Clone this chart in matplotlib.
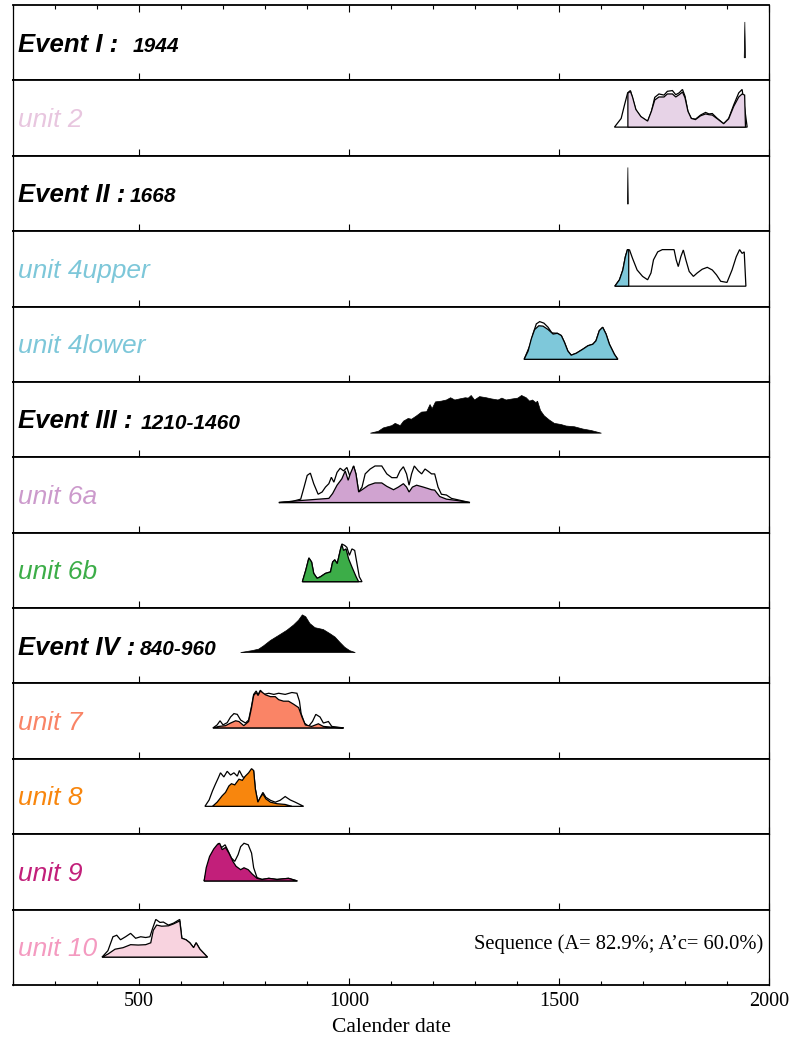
import matplotlib
matplotlib.use('Agg')
import matplotlib.pyplot as plt
import numpy as np
from matplotlib.ticker import MultipleLocator

# ---- data (years, relative height) ----
event1_x = [1941, 1942.5, 1944]
event1_y = [0, 0.95, 0]

unit2_prior_x = [1632, 1648, 1656, 1663.5, 1670, 1675, 1683, 1695, 1711, 1720, 1728, 1738, 1750, 1758,
                 1770, 1778, 1786, 1794, 1800, 1807, 1815, 1825, 1837, 1849, 1857, 1865, 1877, 1892,
                 1904, 1916, 1928, 1936, 1941, 1948]
unit2_prior_y = [0, 0.23, 0.59, 0.91, 0.97, 0.77, 0.45, 0.27, 0.15, 0.41, 0.79, 0.88, 0.85, 0.95,
                 0.97, 0.86, 0.91, 1.0, 0.82, 0.41, 0.23, 0.21, 0.32, 0.39, 0.35, 0.36, 0.23, 0.09,
                 0.23, 0.59, 0.91, 1.0, 0.59, 0]
unit2_post_x = [1664, 1664, 1670, 1675, 1683, 1695, 1711, 1720, 1728, 1738, 1750, 1758, 1770, 1778,
                1786, 1794, 1800, 1807, 1815, 1825, 1837, 1849, 1857, 1865, 1877, 1892, 1904, 1916,
                1928, 1936, 1942, 1944]
unit2_post_y = [0, 0.9, 0.95, 0.8, 0.47, 0.28, 0.16, 0.42, 0.72, 0.80, 0.80, 0.88, 0.88, 0.80,
                0.86, 0.93, 0.78, 0.42, 0.23, 0.2, 0.3, 0.35, 0.33, 0.32, 0.22, 0.09, 0.22, 0.55,
                0.8, 0.88, 0.85, 0]

event2_x = [1663, 1664, 1665]
event2_y = [0, 0.97, 0]

unit4u_prior_x = [1633, 1644, 1652, 1658, 1663, 1668, 1675, 1686, 1699, 1711, 1719, 1725, 1735, 1746,
                  1774, 1779, 1784, 1790, 1796, 1802, 1810, 1820, 1829, 1841, 1853, 1865, 1875, 1885,
                  1900, 1912, 1922, 1930, 1936, 1941, 1945]
unit4u_prior_y = [0, 0.17, 0.43, 0.78, 0.97, 0.96, 0.74, 0.43, 0.26, 0.17, 0.35, 0.70, 0.91, 0.97,
                  0.97, 0.70, 0.52, 0.78, 0.96, 0.70, 0.39, 0.26, 0.35, 0.45, 0.50, 0.43, 0.30, 0.13,
                  0.10, 0.43, 0.78, 0.97, 0.87, 0.91, 0]
unit4u_post_x = [1633, 1644, 1652, 1658, 1663, 1666, 1666]
unit4u_post_y = [0, 0.17, 0.43, 0.78, 0.97, 0.97, 0]

unit4l_prior_x = [1417, 1430.5, 1438, 1446, 1454, 1464, 1474, 1483, 1496, 1505.5, 1513, 1521, 1529,
                  1541, 1557, 1569, 1580.5, 1588, 1596, 1604, 1612, 1620, 1632, 1640]
unit4l_prior_y = [0, 0.36, 0.67, 0.94, 1.0, 0.96, 0.85, 0.70, 0.69, 0.63, 0.45, 0.22, 0.11,
                  0.16, 0.27, 0.36, 0.40, 0.49, 0.76, 0.85, 0.67, 0.40, 0.13, 0]
unit4l_post_x = [1417, 1426.5, 1434, 1442, 1452, 1462, 1474, 1486, 1496, 1505.5, 1513, 1521, 1529,
                 1541, 1557, 1569, 1580.5, 1588, 1596, 1604, 1612, 1620, 1632, 1640]
unit4l_post_y = [0, 0.22, 0.54, 0.79, 0.89, 0.88, 0.79, 0.67, 0.69, 0.63, 0.45, 0.22, 0.11,
                 0.16, 0.27, 0.36, 0.40, 0.49, 0.76, 0.85, 0.67, 0.40, 0.13, 0]

event3_x = [1051, 1070, 1082, 1102, 1110, 1122, 1130, 1141, 1149, 1161, 1173, 1185, 1193, 1198,
            1206, 1220, 1232, 1242, 1252, 1264, 1277, 1284, 1291, 1299, 1311, 1327, 1339, 1355,
            1364, 1374, 1390, 1402, 1411, 1422, 1430, 1437, 1445, 1449, 1456, 1465, 1477, 1489,
            1505, 1517, 1537, 1557, 1577, 1601]
event3_y = [0, 0.05, 0.14, 0.20, 0.26, 0.20, 0.32, 0.39, 0.37, 0.46, 0.56, 0.57, 0.76, 0.65,
            0.83, 0.85, 0.88, 0.94, 0.88, 0.91, 0.94, 0.93, 1.0, 0.88, 0.97, 0.94, 0.91, 0.88,
            0.93, 0.88, 0.91, 0.93, 1.0, 0.94, 0.85, 0.88, 0.81, 0.85, 0.60, 0.46, 0.35, 0.26,
            0.23, 0.19, 0.17, 0.11, 0.07, 0]

unit6a_prior_x = [833, 865, 885, 893, 900.5, 908, 916, 926.5, 936, 944, 952, 958, 964, 971.5, 979,
                  987, 995, 1003, 1011, 1016.5, 1023, 1031, 1038.5, 1050.5, 1062, 1078, 1090, 1102,
                  1114, 1121.5, 1129.5, 1137, 1143, 1149, 1155.5, 1165, 1173, 1181, 1188.5, 1196.5,
                  1204, 1212, 1220, 1232, 1244, 1260, 1288]
unit6a_prior_y = [0, 0.03, 0.09, 0.41, 0.72, 0.78, 0.5, 0.22, 0.28, 0.41, 0.5, 0.67, 0.54, 0.80, 0.91,
                  0.84, 0.93, 0.67, 0.97, 0.76, 0.28, 0.41, 0.76, 0.89, 0.97, 0.97, 0.76, 0.66,
                  0.66, 0.84, 0.95, 0.76, 0.46, 0.76, 0.97, 0.84, 0.76, 0.89, 0.83, 0.76,
                  0.76, 0.41, 0.22, 0.20, 0.11, 0.07, 0]
unit6a_post_x = [833, 881, 928, 952, 961, 971.5, 983, 991, 998, 1003, 1011, 1016.5, 1023, 1035, 1046.5,
                 1062, 1078, 1090, 1106, 1117.5, 1129.5, 1137, 1143, 1151, 1161, 1177, 1188.5, 1196.5,
                 1204, 1216, 1232, 1260, 1288]
unit6a_post_y = [0, 0.05, 0.09, 0.11, 0.24, 0.46, 0.63, 0.84, 0.59, 0.76, 0.97, 0.76, 0.28, 0.37, 0.46,
                 0.52, 0.52, 0.43, 0.34, 0.41, 0.50, 0.41, 0.28, 0.41, 0.46, 0.41, 0.37, 0.34,
                 0.33, 0.16, 0.09, 0.05, 0]

unit6b_prior_x = [889, 897, 904.5, 911, 916, 924, 932, 944, 956, 961, 966, 972, 980, 983, 990, 995,
                  1001, 1007, 1013.5, 1019, 1024.5, 1031]
unit6b_prior_y = [0, 0.30, 0.63, 0.52, 0.22, 0.09, 0.13, 0.22, 0.26, 0.52, 0.58, 0.48, 0.87, 1.0, 0.96,
                  0.91, 0.70, 0.87, 0.83, 0.48, 0.13, 0]
unit6b_post_x = [889, 897, 904.5, 911, 916, 924, 932, 944, 956, 961, 966, 972, 980, 983, 987, 993,
                 999, 1007, 1017, 1023]
unit6b_post_y = [0, 0.30, 0.63, 0.52, 0.22, 0.09, 0.13, 0.22, 0.26, 0.52, 0.58, 0.48, 0.87, 0.98, 0.83,
                 0.87, 0.61, 0.39, 0.13, 0]

event4_x = [742, 769, 785, 797, 813, 832, 852, 868, 880, 889, 897, 907, 919, 939, 955, 967,
            978.5, 990, 1002, 1015]
event4_y = [0, 0.05, 0.09, 0.18, 0.32, 0.45, 0.59, 0.73, 0.86, 1.0, 0.95, 0.77, 0.66, 0.61, 0.5, 0.41,
            0.27, 0.14, 0.05, 0]

unit7_prior_x = [676, 686, 693, 700, 710, 718, 726, 734, 742, 753.5, 761, 768, 773, 779, 783.5, 789,
                 797, 809, 821, 832.5, 848, 864, 876, 882, 886, 894, 903.5, 913, 921, 931, 939, 951,
                 959, 987]
unit7_prior_y = [0, 0.08, 0.19, 0.08, 0.14, 0.29, 0.38, 0.36, 0.21, 0.13, 0.21, 0.58, 0.89, 0.98, 0.88,
                 1.0, 0.89, 0.92, 0.89, 0.92, 0.89, 0.94, 0.92, 0.71, 0.38, 0.13, 0.04, 0.17, 0.36,
                 0.29, 0.13, 0.17, 0.04, 0]
unit7_post_x = [676, 690, 706, 718, 730, 738, 749.5, 761, 768, 773, 779, 783.5, 789, 801, 813, 824.5,
                832.5, 844, 856, 868, 880, 888, 896, 911, 927, 939, 959, 987]
unit7_post_y = [0, 0.04, 0.06, 0.13, 0.19, 0.17, 0.06, 0.17, 0.54, 0.86, 0.94, 0.86, 0.98, 0.88, 0.83,
                0.83, 0.75, 0.71, 0.71, 0.63, 0.54, 0.29, 0.08, 0.04, 0.11, 0.04, 0.02, 0]

unit8_prior_x = [657, 667, 675, 682, 689, 694, 702, 710, 718, 726, 734, 739, 747, 755, 761, 768, 773,
                 777, 783, 789, 795, 802, 813, 824.5, 836, 848, 860, 872, 892]
unit8_prior_y = [0, 0.17, 0.41, 0.59, 0.76, 0.89, 0.78, 0.93, 0.83, 0.89, 0.80, 0.95, 0.78, 0.76, 0.84,
                 0.97, 0.93, 0.46, 0.11, 0.24, 0.37, 0.24, 0.16, 0.11, 0.16, 0.26, 0.17, 0.11, 0]
unit8_post_x = [675, 686, 698, 706, 714, 720, 728, 738, 746, 753, 761, 768, 773, 777, 783, 789, 795,
                802, 813, 828.5, 848, 864]
unit8_post_y = [0, 0.11, 0.28, 0.37, 0.54, 0.60, 0.57, 0.72, 0.69, 0.80, 0.89, 1.0, 0.95, 0.46, 0.11,
                0.24, 0.33, 0.20, 0.11, 0.07, 0.05, 0]

unit9_prior_x = [655, 663, 671, 681, 689, 697, 705, 712, 720, 728, 736, 742, 750, 760, 768, 773, 781,
                 793, 809, 828.5, 856, 877]
unit9_prior_y = [0, 0.35, 0.61, 0.78, 1.0, 0.89, 0.96, 0.80, 0.61, 0.52, 0.70, 0.91, 1.0, 0.96, 0.74,
                 0.35, 0.09, 0.04, 0.07, 0.04, 0.07, 0]
unit9_post_x = [655, 660, 668, 678, 686, 692, 698, 706, 714, 723.5, 731, 742, 750, 760, 769, 781, 793,
                809, 828.5, 856, 877]
unit9_post_y = [0, 0.35, 0.65, 0.85, 0.96, 1.0, 0.83, 0.89, 0.74, 0.52, 0.39, 0.30, 0.35, 0.30, 0.19,
                0.07, 0.04, 0.07, 0.04, 0.07, 0]

unit10_prior_x = [412, 426, 438, 447, 456, 468, 480, 492, 504, 516, 526, 532, 540, 550, 558, 570, 582,
                  597, 602, 612, 621, 630, 636, 645, 663]
unit10_prior_y = [0, 0.17, 0.54, 0.58, 0.46, 0.54, 0.63, 0.50, 0.54, 0.52, 0.54, 0.75, 1.0, 0.92, 0.93,
                  0.85, 0.90, 1.0, 0.50, 0.46, 0.38, 0.25, 0.38, 0.21, 0]
unit10_post_x = [412, 426, 443, 462, 480, 498, 516, 528, 534, 542, 554, 570, 582, 597, 602, 612, 621,
                 630, 636, 645, 663]
unit10_post_y = [0, 0.08, 0.21, 0.25, 0.33, 0.32, 0.33, 0.38, 0.71, 0.85, 0.82, 0.83, 0.88, 0.96, 0.50,
                 0.46, 0.38, 0.25, 0.38, 0.21, 0]

# (label, number, text colour, fill colour, prior, posterior)
panels = [
    ("Event I :", "1944", "black", "black", None, (event1_x, event1_y)),
    ("unit 2", None, "#e8c6df", "#e7d3e7", (unit2_prior_x, unit2_prior_y), (unit2_post_x, unit2_post_y)),
    ("Event II :", "1668", "black", "black", None, (event2_x, event2_y)),
    ("unit 4upper", None, "#7dc7d9", "#7ec8da", (unit4u_prior_x, unit4u_prior_y), (unit4u_post_x, unit4u_post_y)),
    ("unit 4lower", None, "#7dc7d9", "#7ec8da", (unit4l_prior_x, unit4l_prior_y), (unit4l_post_x, unit4l_post_y)),
    ("Event III :", "1210-1460", "black", "black", None, (event3_x, event3_y)),
    ("unit 6a", None, "#cc9acc", "#d0a3d0", (unit6a_prior_x, unit6a_prior_y), (unit6a_post_x, unit6a_post_y)),
    ("unit 6b", None, "#3cad48", "#3cad48", (unit6b_prior_x, unit6b_prior_y), (unit6b_post_x, unit6b_post_y)),
    ("Event IV :", "840-960", "black", "black", None, (event4_x, event4_y)),
    ("unit 7", None, "#f98466", "#fa8466", (unit7_prior_x, unit7_prior_y), (unit7_post_x, unit7_post_y)),
    ("unit 8", None, "#f8860d", "#f8860d", (unit8_prior_x, unit8_prior_y), (unit8_post_x, unit8_post_y)),
    ("unit 9", None, "#c21f7a", "#c21f7a", (unit9_prior_x, unit9_prior_y), (unit9_post_x, unit9_post_y)),
    ("unit 10", None, "#f49ac0", "#f8d3df", (unit10_prior_x, unit10_prior_y), (unit10_post_x, unit10_post_y)),
]

# baseline position of each panel (fraction of panel height)
baselines = [0.30, 0.38, 0.36, 0.27, 0.30, 0.32, 0.40, 0.35, 0.41, 0.41, 0.37, 0.38, 0.37]
# x position (pixels) where the event numbers start
num_x = {"1944": 133, "1668": 130, "1210-1460": 141, "840-960": 140}

W, H = 789, 1039
fig = plt.figure(figsize=(W / 100, H / 100), dpi=100)
edges = np.linspace(5, 985, len(panels) + 1)
left, right = 13, 769

sans = ['Liberation Sans', 'DejaVu Sans']
serif = ['Liberation Serif', 'DejaVu Serif']

axes = []
for i, (label, num, tcol, fcol, prior, post) in enumerate(panels):
    top, bot = edges[i], edges[i + 1]
    ax = fig.add_axes([left / W, 1 - bot / H, (right - left) / W, (bot - top) / H])
    b = baselines[i]
    ax.set_xlim(200, 2000)
    ax.set_ylim(-b / 0.5, (1 - b) / 0.5)
    ax.set_yticks([])
    ax.spines['top'].set_linewidth(1.3)
    ax.spines['bottom'].set_linewidth(1.3)
    ax.spines['left'].set_linewidth(0.9)
    ax.spines['right'].set_linewidth(0.9)
    ax.xaxis.set_major_locator(MultipleLocator(500))
    ax.xaxis.set_minor_locator(MultipleLocator(100))
    ax.tick_params(which='major', direction='in', length=5, width=0.8, top=False, bottom=True,
                   labelbottom=False)
    ax.tick_params(which='minor', direction='in', length=3, width=0.8, top=False, bottom=False)

    if prior is not None:
        ax.fill(prior[0], prior[1], facecolor='none', edgecolor='black', lw=0.9)
        ax.fill(post[0], post[1], facecolor=fcol, edgecolor='black', lw=0.9)
    else:
        ax.fill(post[0], post[1], facecolor=fcol, edgecolor='black', lw=0.5)

    if num is None:
        ax.text(0.007, 0.475, label, transform=ax.transAxes, fontsize=19, style='italic',
                color=tcol, va='center', ha='left', family=sans)
    else:
        ax.text(0.007, 0.475, label, transform=ax.transAxes, fontsize=18.5, style='italic',
                weight='bold', color=tcol, va='center', ha='left', family=sans)
        ax.text((num_x[num] - left) / (right - left), 0.455, num, transform=ax.transAxes,
                fontsize=15, style='italic', weight='bold', va='center', ha='left', family=sans)
    axes.append(ax)

axes[0].tick_params(which='both', top=True)
axes[-1].tick_params(which='minor', bottom=True)
axes[-1].tick_params(which='major', labelbottom=True, labelsize=14.5, pad=5)
for lab in axes[-1].get_xticklabels():
    lab.set_family(serif)
axes[-1].set_xlabel('Calender date', fontsize=15.5, family=serif, labelpad=5)
axes[-1].text(0.993, 0.54, 'Sequence (A= 82.9%; A\u2019c= 60.0%)', transform=axes[-1].transAxes,
              fontsize=14.8, ha='right', va='center', family=serif)

plt.savefig('out.png', dpi=100)
